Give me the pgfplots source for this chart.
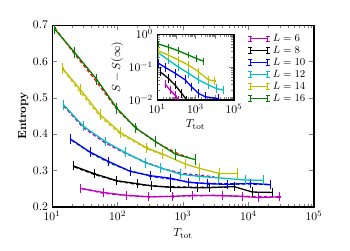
\documentclass[border=0pt]{standalone}
\usepackage{pgfplots}
\pgfplotsset{compat=1.18}
\definecolor{colM}{rgb}{0.75,0,0.75}
\definecolor{colC}{rgb}{0,0.75,0.75}
\definecolor{colY}{rgb}{0.75,0.75,0}
\definecolor{colG}{rgb}{0,0.5,0}
\pgfplotsset{
  eb/.style={error bars/y dir=both, error bars/y fixed=#1,
    error bars/error mark options={mark size=3pt, line width=0.8pt, solid}},
  ebr/.style={error bars/y dir=both, error bars/y fixed relative=#1,
    error bars/error mark options={mark size=2.5pt, line width=0.7pt, solid}},
  dl/.style={line width=1.1pt, dash pattern=on 3pt off 2pt, forget plot},
}
\begin{document}
\begin{tikzpicture}
\path[use as bounding box] (-44.5pt,-36.8pt) rectangle (254.8pt,177pt);
\begin{axis}[
  name=ax, at={(0,0)}, anchor=south west,
  width=224pt, height=155.6pt, scale only axis,
  xmode=log, xmin=10, xmax=1e5,
  ymin=0.2, ymax=0.7, ytick={0.2,0.3,0.4,0.5,0.6,0.7},
  yticklabel style={/pgf/number format/fixed, /pgf/number format/precision=1, /pgf/number format/fixed zerofill},
  axis line style={line width=0.9pt},
  xlabel={$T_{\rm tot}$}, ylabel={\textbf{Entropy}},
  ylabel style={yshift=-3pt},
  every axis plot/.append style={line width=1.1pt},
  legend style={at={(0.733,0.975)}, anchor=north west, draw=none, fill=none, font=\small, row sep=-1.5pt},
  legend cell align=left,
  legend image code/.code={
    \draw[#1, solid, line width=0.8pt] (0pt,-2.5pt) -- (0pt,2.5pt) (-1.8pt,-2.5pt)--(1.8pt,-2.5pt) (-1.8pt,2.5pt)--(1.8pt,2.5pt)
      (0pt,0pt)--(15pt,0pt) (15pt,-2.5pt)--(15pt,2.5pt) (13.2pt,-2.5pt)--(16.8pt,-2.5pt) (13.2pt,2.5pt)--(16.8pt,2.5pt);
  },
]
% dashed overlays
\addplot[dl, red] coordinates {(11,0.692) (22,0.621) (48,0.544) (100,0.466) (200,0.414) (400,0.376) (800,0.348) (1200,0.336)};
\addplot[dl, colY!80!white] coordinates {(15,0.576) (27,0.515) (55,0.447) (110,0.401) (280,0.360) (500,0.342)};
\addplot[dl, colM] coordinates {(15,0.478) (30,0.418) (65,0.376) (130,0.348) (260,0.324) (500,0.305) (1000,0.292) (3000,0.283)};
\addplot[dl, colG] coordinates {(20,0.383) (40,0.347) (75,0.321) (150,0.300) (300,0.287)};
\addplot[dl, blue] coordinates {(300,0.285) (700,0.276) (1500,0.266) (4000,0.264) (10000,0.263) (20000,0.262)};
\addplot[dl, black] coordinates {(22,0.310) (45,0.289) (100,0.271) (200,0.262) (500,0.256) (1500,0.254) (5000,0.254)};
\addplot[dl, colM] coordinates {(30,0.250) (60,0.238) (130,0.232) (300,0.228) (1000,0.230) (3000,0.232) (10000,0.229) (30000,0.227)};
% data
\addplot[colM, eb=0.003] coordinates {(27,0.251) (60,0.240) (135,0.232) (300,0.228) (700,0.229) (1400,0.232) (4000,0.231) (8000,0.229) (14000,0.226) (30000,0.228)};
\addlegendentry{$L=6$}
\addplot[black, eb=0.003] coordinates {(21,0.313) (45,0.291) (98,0.272) (200,0.264) (330,0.258) (650,0.254) (1650,0.253) (2500,0.253) (6000,0.256) (11500,0.241) (23000,0.240)};
\addlegendentry{$L=8$}
\addplot[blue, eb=0.003] coordinates {(19,0.387) (38,0.351) (73,0.325) (155,0.298) (316,0.286) (640,0.279) (1200,0.268) (2400,0.264) (4700,0.262) (10800,0.265) (21600,0.261)};
\addlegendentry{$L=10$}
\addplot[colC, eb=0.004] coordinates {(15,0.481) (30,0.422) (65,0.380) (130,0.350) (265,0.322) (450,0.308) (900,0.290) (1800,0.284) (3500,0.280) (9000,0.274) (17000,0.273)};
\addlegendentry{$L=12$}
\addplot[colY, eb=0.005] coordinates {(14.6,0.580) (27,0.523) (54,0.454) (110,0.405) (280,0.362) (480,0.346) (1080,0.318) (1800,0.306) (3600,0.292) (6800,0.292)};
\addlegendentry{$L=14$}
\addplot[colG, eb=0.005] coordinates {(11,0.689) (22,0.625) (48,0.551) (98,0.471) (190,0.417) (380,0.380) (770,0.345) (1550,0.330)};
\addlegendentry{$L=16$}
\end{axis}
\begin{axis}[
  at={(89.8pt,91.5pt)}, anchor=south west,
  width=65.8pt, height=56.4pt, scale only axis,
  xmode=log, ymode=log, xmin=10, xmax=1e5, ymin=0.01, ymax=1,
  xtick={10,100,1000,10000,100000}, xticklabels={$10^{1}$,,$10^{3}$,,$10^{5}$},
  ytick={0.01,0.1,1},
  axis line style={line width=0.9pt},
  axis background/.style={fill=white},
  xlabel={$T_{\rm tot}$}, ylabel={$S-S(\infty)$},
  xlabel style={yshift=2pt}, ylabel style={yshift=-2pt},
  every axis plot/.append style={line width=1.1pt},
  clip=true,
]
\addplot[colM, ebr=0.1] coordinates {(26,0.0306) (47,0.020) (86,0.014) (129,0.010) (200,0.008)};
\addplot[black, ebr=0.1] coordinates {(14.3,0.072) (39,0.045) (86,0.0285) (190,0.016) (350,0.010) (700,0.008)};
\addplot[blue, ebr=0.1] coordinates {(11.7,0.13) (26,0.098) (86,0.065) (283,0.041) (630,0.025) (1400,0.016) (3100,0.0126) (15000,0.011)};
\addplot[colC, ebr=0.1] coordinates {(11.7,0.27) (39,0.163) (129,0.10) (425,0.065) (1400,0.041) (4700,0.0285) (12600,0.022) (27000,0.020)};
\addplot[colY, ebr=0.06] coordinates {(11.7,0.31) (39,0.23) (129,0.163) (425,0.115) (1400,0.072) (4700,0.041) (10000,0.038)};
\addplot[colG, ebr=0.03] coordinates {(11.7,0.50) (39,0.40) (129,0.31) (425,0.23) (1150,0.18) (2570,0.15)};
\end{axis}
\end{tikzpicture}
\end{document}
